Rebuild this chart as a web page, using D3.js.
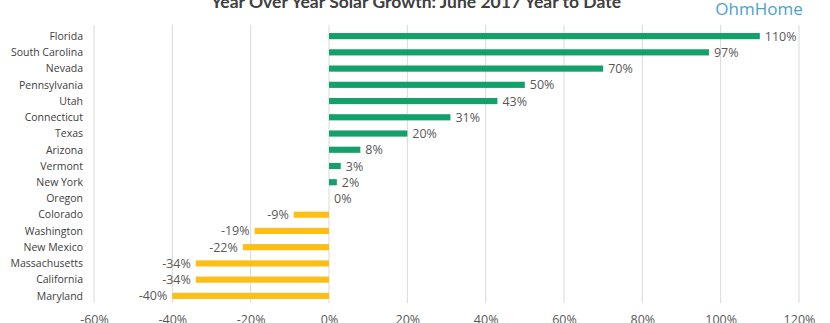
<!DOCTYPE html>
<html>
<head>
<meta charset="utf-8">
<script src="https://cdn.jsdelivr.net/npm/d3@7"></script>
<style>
  body { margin: 0; background: #fff; }
  svg { display: block; font-family: "Open Sans", sans-serif; }
</style>
</head>
<body>
<div class="chart"></div>
<script>
// state names, top to bottom
const states = ["Florida", "South Carolina", "Nevada", "Pennsylvania", "Utah", "Connecticut",
    "Texas", "Arizona", "Vermont", "New York", "Oregon", "Colorado", "Washington",
    "New Mexico", "Massachusetts", "California", "Maryland"];

// year over year growth in percent
const growth = [110, 97, 70, 50, 43, 31, 20, 8, 3, 2, 0, -9, -19, -22, -34, -34, -40];

const xTicks = [-60, -40, -20, 0, 20, 40, 60, 80, 100, 120];

const data = states.map((s, i) => ({ state: s, value: growth[i] }));

const width = 830, height = 323;
const margin = { top: 25, left: 94, right: 31, bottom: 20 };

const svg = d3.select(".chart").append("svg")
    .attr("width", width)
    .attr("height", height);

const xScale = d3.scaleLinear()
    .domain([-60, 120])
    .range([margin.left, width - margin.right]);

const yScale = d3.scaleBand()
    .domain(states)
    .range([margin.top + 3, 304])
    .paddingInner(0.62)
    .paddingOuter(0.31);

// gridlines
svg.append("g")
    .selectAll("line")
    .data(xTicks)
    .join("line")
    .attr("x1", d => xScale(d))
    .attr("x2", d => xScale(d))
    .attr("y1", margin.top)
    .attr("y2", 303)
    .attr("stroke", "#d9d9d9")
    .attr("stroke-width", 1);

// tick labels along the bottom, partly below the frame
const xAxis = d3.axisBottom(xScale)
    .tickValues(xTicks)
    .tickFormat(d => d + "%")
    .tickSize(0)
    .tickPadding(0);

svg.append("g")
    .attr("class", "axis x-axis")
    .attr("transform", "translate(0,315)")
    .call(xAxis)
    .call(g => g.select(".domain").remove())
    .call(g => g.selectAll("text")
        .attr("font-family", "'Open Sans', sans-serif")
        .attr("font-size", 12.5)
        .attr("fill", "#595959"));

// bars
svg.append("g")
    .selectAll("rect")
    .data(data)
    .join("rect")
    .attr("x", d => xScale(Math.min(0, d.value)))
    .attr("y", d => yScale(d.state))
    .attr("width", d => Math.abs(xScale(d.value) - xScale(0)))
    .attr("height", yScale.bandwidth())
    .attr("fill", d => d.value >= 0 ? "#12a06b" : "#fbbf17");

// value labels
svg.append("g")
    .selectAll("text")
    .data(data)
    .join("text")
    .attr("x", d => d.value >= 0 ? xScale(d.value) + 5 : xScale(d.value) - 5)
    .attr("y", d => yScale(d.state) + yScale.bandwidth() / 2)
    .attr("dy", "0.36em")
    .attr("text-anchor", d => d.value >= 0 ? "start" : "end")
    .attr("font-size", 12.5)
    .attr("fill", "#595959")
    .text(d => d.value + "%");

// state names
svg.append("g")
    .selectAll("text")
    .data(data)
    .join("text")
    .attr("x", 83)
    .attr("y", d => yScale(d.state) + yScale.bandwidth() / 2)
    .attr("dy", "0.36em")
    .attr("text-anchor", "end")
    .attr("font-size", 10.5)
    .attr("fill", "#404040")
    .text(d => d.state);

// title
svg.append("text")
    .attr("x", 416)
    .attr("y", 8)
    .attr("text-anchor", "middle")
    .attr("font-family", "Lato, sans-serif")
    .attr("font-size", 17.5)
    .attr("font-weight", "bold")
    .attr("fill", "#404040")
    .text("Year Over Year Solar Growth: June 2017 Year to Date");

// brand mark
svg.append("text")
    .attr("x", 759)
    .attr("y", 15)
    .attr("text-anchor", "middle")
    .attr("font-size", 17)
    .attr("fill", "#4aa2cd")
    .text("OhmHome");
</script>
</body>
</html>
